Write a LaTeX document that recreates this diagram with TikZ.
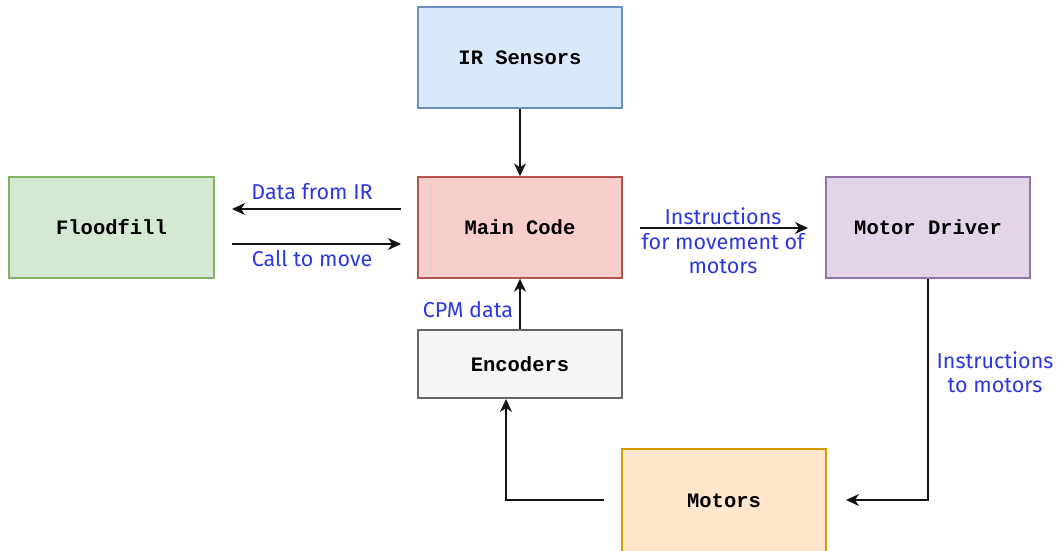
\documentclass[tikz,border=0pt]{standalone}
\usepackage{fontspec}
\setmainfont{Fira Sans}
\setmonofont{Liberation Mono}
\usetikzlibrary{arrows.meta,positioning,calc}
\definecolor{irfill}{HTML}{DAE8FC}\definecolor{irdraw}{HTML}{6C8EBF}
\definecolor{ffill}{HTML}{D5E8D4}\definecolor{fdraw}{HTML}{82B366}
\definecolor{mfill}{HTML}{F8CECC}\definecolor{mdraw}{HTML}{B85450}
\definecolor{dfill}{HTML}{E1D5E7}\definecolor{ddraw}{HTML}{9673A6}
\definecolor{efill}{HTML}{F5F5F5}\definecolor{edraw}{HTML}{666666}
\definecolor{ofill}{HTML}{FFE6CC}\definecolor{odraw}{HTML}{D79B00}
\definecolor{lblue}{RGB}{45,55,225}
\tikzset{
  box/.style={draw, line width=1.4pt, minimum width=204pt, minimum height=101pt, inner sep=0pt,
    font=\fontsize{20.5}{24}\selectfont\ttfamily\bfseries},
  conn/.style={line width=1.5pt, draw={rgb,255:red,20;green,20;blue,20}, -{Stealth[length=13pt,width=12pt,inset=4pt]}},
  lbl/.style={text=lblue, font=\fontsize{21.5}{24.5}\selectfont, align=center, inner sep=0pt}
}
\begin{document}
\begin{tikzpicture}[x=1pt,y=-1pt]
\useasboundingbox (0,0) rectangle (1057,551);
\node[box, fill=irfill, draw=irdraw] (ir) at (520,57.5) {IR Sensors};
\node[box, fill=ffill, draw=fdraw, minimum width=205pt] (ff) at (111.5,227.5) {Floodfill};
\node[box, fill=mfill, draw=mdraw] (main) at (520,227.5) {Main Code};
\node[box, fill=dfill, draw=ddraw] (md) at (928,227.5) {Motor Driver};
\node[box, fill=efill, draw=edraw, minimum height=68pt] (enc) at (520,364) {Encoders};
\node[box, fill=ofill, draw=odraw, minimum height=103pt] (mot) at (724,500.5) {Motors};

\coordinate (a1) at (401,209); \coordinate (a2) at (232,209);
\coordinate (b1) at (232,244); \coordinate (b2) at (401,244);
\coordinate (c1) at (640,228); \coordinate (c2) at (808,228);
\coordinate (d1) at (928,279); \coordinate (d2) at (846,500);
\coordinate (e1) at (604,500); \coordinate (e2) at (506,399);

\draw[conn] (ir.south) -- (main.north);
\draw[conn] (a1) -- (a2);
\draw[conn] (b1) -- (b2);
\draw[conn] (c1) -- (c2);
\draw[conn] (d1) |- (d2);
\draw[conn] (e1) -| (e2);
\draw[conn] (enc.north) -- (main.south);

\node[lbl] (l1) at (312,192) {Data from IR};
\node[lbl] (l2) at (312,259) {Call to move};
\node[lbl] (l3) at (723,241) {Instructions\\for movement of\\motors};
\node[lbl] (l4) at (468,310) {CPM data};
\node[lbl] (l5) at (995,372) {Instructions\\to motors};
\end{tikzpicture}
\end{document}
